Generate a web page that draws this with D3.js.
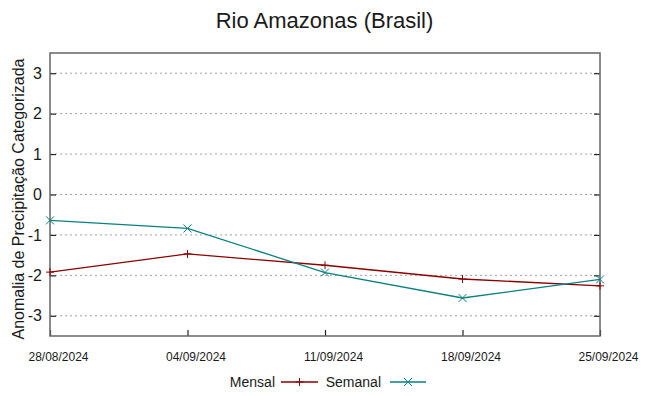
<!DOCTYPE html>
<html>
<head>
<meta charset="utf-8">
<script src="https://cdn.jsdelivr.net/npm/d3@7"></script>
<style>
  body { margin: 0; background: #fff; }
  text { font-family: "Liberation Sans", Arial, sans-serif; fill: #1a1a1a; }
</style>
</head>
<body>
<script>

    var dates = ["28/08/2024", "04/09/2024", "11/09/2024", "18/09/2024", "25/09/2024"];
    var mensal = [-1.92, -1.47, -1.75, -2.09, -2.26];
    var semanal = [-0.64, -0.84, -1.93, -2.56, -2.10];
    var yTicks = [-3, -2, -1, 0, 1, 2, 3];

    var W = 649, H = 396;
    var margin = {top: 53, right: 49, bottom: 60, left: 50};
    var width = W - margin.left - margin.right,
        height = H - margin.top - margin.bottom;

    var svg = d3.select("body").append("svg")
        .attr("width", W)
        .attr("height", H);

    var g = svg.append("g")
        .attr("transform", "translate(" + margin.left + "," + margin.top + ")");

    var x = d3.scalePoint()
        .domain(dates)
        .range([0, width]);

    var y = d3.scaleLinear()
        .domain([-3.5, 3.5])
        .range([height, 0]);

    // grid lines
    g.selectAll("line.grid")
        .data(yTicks)
        .enter().append("line")
        .attr("class", "grid")
        .attr("x1", 0).attr("x2", width)
        .attr("y1", function(d) { return y(d); })
        .attr("y2", function(d) { return y(d); })
        .attr("stroke", "#a0a0a0")
        .attr("stroke-width", 1)
        .attr("stroke-dasharray", "2,3");

    // axes (gnuplot style: ticks inside, mirrored)
    var yAxis = d3.axisLeft(y).tickValues(yTicks).tickSize(-6).tickPadding(8)
        .tickFormat(function(d) { return String(d); });
    var yAxisR = d3.axisRight(y).tickValues(yTicks).tickSize(-6).tickFormat("");
    var xAxis = d3.axisBottom(x).tickSize(-6).tickPadding(16);

    var ya = g.append("g").call(yAxis);
    ya.selectAll("text").style("font-size", "16px");

    g.append("g").attr("transform", "translate(" + width + ",0)").call(yAxisR);

    var xa = g.append("g")
        .attr("transform", "translate(0," + height + ")")
        .call(xAxis);
    xa.selectAll("text")
        .style("font-size", "12px")
        .attr("dx", 8);

    svg.selectAll(".domain").remove();
    svg.selectAll(".tick line").attr("stroke", "#222").attr("stroke-width", 1.2);

    // frame
    g.append("rect")
        .attr("width", width)
        .attr("height", height)
        .attr("fill", "none")
        .attr("stroke", "#666")
        .attr("stroke-width", 1.5);

    var series = [
        {name: "Mensal", values: mensal, color: "#8b0000", mark: "plus"},
        {name: "Semanal", values: semanal, color: "#0a8080", mark: "cross"}
    ];

    var line = d3.line()
        .x(function(d, i) { return x(dates[i]); })
        .y(function(d) { return y(d); });

    function marker(sel, type, color) {
        var s = 4;
        if (type == "plus") {
            sel.append("path").attr("d", "M" + (-s) + ",0H" + s + "M0," + (-s) + "V" + s);
        } else {
            sel.append("path").attr("d", "M" + (-s) + "," + (-s) + "L" + s + "," + s + "M" + (-s) + "," + s + "L" + s + "," + (-s));
        }
        sel.selectAll("path").attr("stroke", color).attr("stroke-width", 1).attr("fill", "none");
    }

    series.forEach(function(s) {
        g.append("path")
            .datum(s.values)
            .attr("d", line)
            .attr("fill", "none")
            .attr("stroke", s.color)
            .attr("stroke-width", 1.3);

        g.selectAll("g.m-" + s.name)
            .data(s.values)
            .enter().append("g")
            .attr("class", "m-" + s.name)
            .attr("transform", function(d, i) { return "translate(" + x(dates[i]) + "," + y(d) + ")"; })
            .each(function() { marker(d3.select(this), s.mark, s.color); });
    });

    // title
    svg.append("text")
        .attr("x", W / 2)
        .attr("y", 28)
        .attr("text-anchor", "middle")
        .style("font-size", "22px")
        .text("Rio Amazonas (Brasil)");

    // y label
    svg.append("text")
        .attr("transform", "translate(24,199) rotate(-90)")
        .attr("text-anchor", "middle")
        .style("font-size", "16px")
        .text("Anomalia de Precipitação Categorizada");

    // legend
    var legend = svg.append("g").attr("transform", "translate(0,382)");
    var legendItems = [
        {name: "Mensal", textEnd: 275, x1: 281, x2: 318, color: "#8b0000", mark: "plus"},
        {name: "Semanal", textEnd: 381, x1: 390, x2: 426, color: "#0a8080", mark: "cross"}
    ];
    legendItems.forEach(function(l) {
        legend.append("text")
            .attr("x", l.textEnd)
            .attr("y", 5)
            .attr("text-anchor", "end")
            .style("font-size", "14px")
            .text(l.name);
        legend.append("line")
            .attr("x1", l.x1).attr("x2", l.x2)
            .attr("y1", 0).attr("y2", 0)
            .attr("stroke", l.color)
            .attr("stroke-width", 1.3);
        var m = legend.append("g").attr("transform", "translate(" + ((l.x1 + l.x2) / 2) + ",0)");
        marker(m, l.mark, l.color);
    });

</script>
</body>
</html>
